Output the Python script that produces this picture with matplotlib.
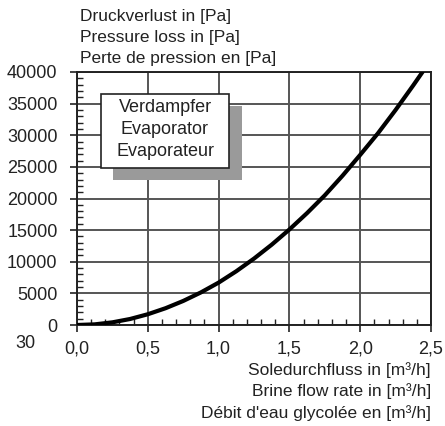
import matplotlib
matplotlib.use("Agg")
import matplotlib.pyplot as plt
from matplotlib.patches import Rectangle
from matplotlib.ticker import MultipleLocator, FuncFormatter

plt.rcParams['font.family'] = ['Liberation Sans', 'DejaVu Sans']

flow = [0.0, 0.125, 0.25, 0.375, 0.5, 0.625, 0.75, 0.875, 1.0, 1.125, 1.25, 1.375,
        1.5, 1.625, 1.75, 1.875, 2.0, 2.125, 2.25, 2.375, 2.44]
pressure = [0, 100, 420, 950, 1700, 2650, 3800, 5150, 6700, 8500, 10500, 12700,
            15100, 17700, 20500, 23600, 26900, 30300, 34000, 37900, 40000]
y_title = ["Druckverlust in [Pa]", "Pressure loss in [Pa]", "Perte de pression en [Pa]"]
x_title = ["Soledurchfluss in [m³/h]", "Brine flow rate in [m³/h]", "Débit d'eau glycolée en [m³/h]"]
box_lines = ["Verdampfer", "Evaporator", "Evaporateur"]

W, H = 445, 426
fig = plt.figure(figsize=(W / 100, H / 100), dpi=100)
ax = fig.add_axes([77 / W, 1 - 325 / H, (431 - 77) / W, (325 - 72) / H])

ax.plot(flow, pressure, color='black', lw=3.0, solid_capstyle='round', zorder=5)
ax.set_xlim(0, 2.5)
ax.set_ylim(0, 40000)
ax.xaxis.set_major_locator(MultipleLocator(0.5))
ax.xaxis.set_minor_locator(MultipleLocator(0.1))
ax.yaxis.set_major_locator(MultipleLocator(5000))
ax.yaxis.set_minor_locator(MultipleLocator(1000))
ax.xaxis.set_major_formatter(FuncFormatter(lambda v, p: f"{v:.1f}".replace('.', ',')))
ax.yaxis.set_major_formatter(FuncFormatter(lambda v, p: f"{int(v)}"))
ax.grid(True, which='major', color='#555555', lw=1.4)
ax.tick_params(axis='both', which='major', direction='out', length=5, width=1.2,
               labelsize=13, colors='#222222')
ax.tick_params(axis='y', which='major', pad=9)
ax.tick_params(axis='x', which='major', pad=6)
ax.tick_params(axis='both', which='minor', direction='in', length=4, width=1, color='#222222')
for s in ax.spines.values():
    s.set_color('#222222')
    s.set_linewidth(1.4)

for i, t in enumerate(y_title):
    fig.text(80 / W, 1 - (17 + 20.5 * i) / H, t, fontsize=12.5, color='#222222',
             ha='left', va='center')
for i, t in enumerate(x_title):
    fig.text(431 / W, 1 - (370 + 21.5 * i) / H, t, fontsize=12.5, color='#222222',
             ha='right', va='center')
fig.text(25 / W, 1 - 344 / H, "30", fontsize=13, color='#222222', ha='center', va='center')

# box with shadow
bx0, by0, bx1, by1 = 101, 94, 229, 168
sh = Rectangle((113 / W, 1 - 180 / H), (242 - 113) / W, (180 - 106) / H,
               transform=fig.transFigure, facecolor='#9a9a9a', edgecolor='none', zorder=10)
bx = Rectangle((bx0 / W, 1 - by1 / H), (bx1 - bx0) / W, (by1 - by0) / H,
               transform=fig.transFigure, facecolor='white', edgecolor='#222222', lw=1.2, zorder=11)
fig.add_artist(sh)
fig.add_artist(bx)
for i, t in enumerate(box_lines):
    fig.text((bx0 + bx1) / 2 / W, 1 - (108 + 22 * i) / H, t, fontsize=13, color='#222222',
             ha='center', va='center', zorder=12)

fig.savefig("out.png", dpi=100)
